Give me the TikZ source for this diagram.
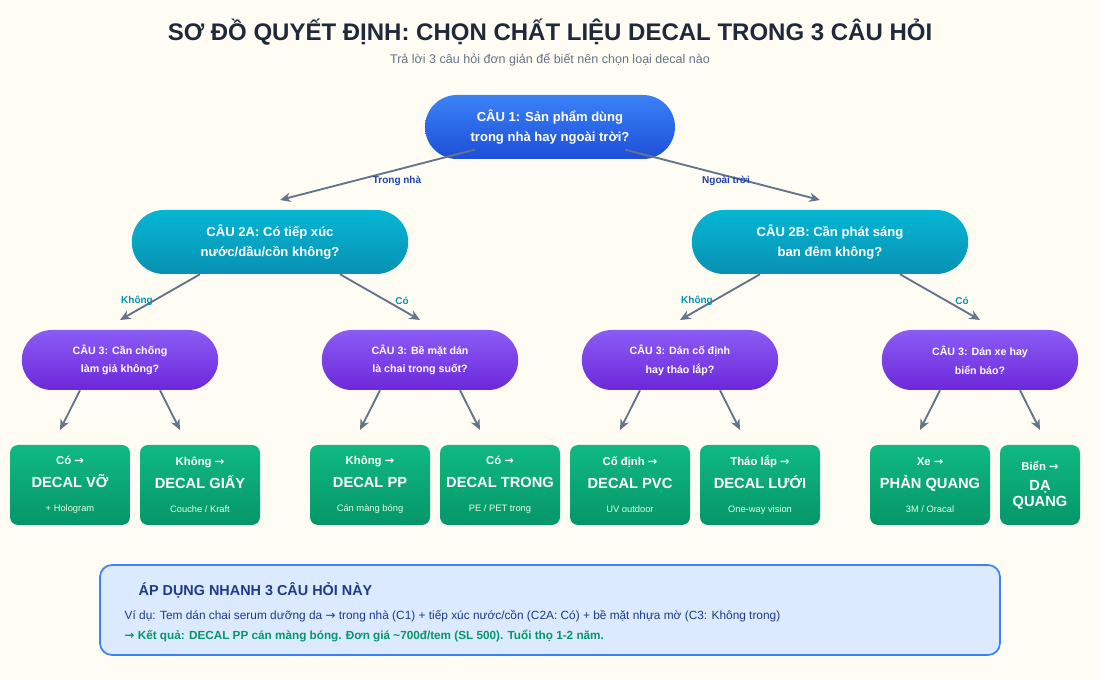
\documentclass[tikz,border=0pt]{standalone}
\usepackage{fontspec}
\setmainfont{Liberation Sans}
\newfontfamily\arr{DejaVu Sans}
\usetikzlibrary{shapes.misc,arrows.meta,calc}
\definecolor{bgc}{HTML}{FFFDF3}
\definecolor{ttl}{HTML}{1E293B}
\definecolor{sub}{HTML}{64748B}
\definecolor{lnk}{HTML}{64748B}
\definecolor{dblue}{HTML}{1E40AF}
\definecolor{cyl}{HTML}{0891B2}
\definecolor{grn}{HTML}{059669}
\newcommand{\ra}{{\arr →}}
\begin{document}
\begin{tikzpicture}[x=0.75pt,y=-0.75pt,
 q2/.style={rounded rectangle,align=center,text=white,minimum width=214pt,minimum height=48pt,top color={rgb,255:red,6;green,182;blue,212},bottom color={rgb,255:red,8;green,145;blue,178},font=\bfseries\fontsize{9.8}{14.5}\selectfont},
 q3/.style={rounded rectangle,align=center,text=white,minimum width=154pt,minimum height=45pt,top color={rgb,255:red,139;green,92;blue,246},bottom color={rgb,255:red,109;green,40;blue,217},font=\bfseries\fontsize{8}{14}\selectfont},
 leaf/.style={rectangle,rounded corners=6pt,minimum width=90pt,minimum height=60pt,top color={rgb,255:red,16;green,185;blue,129},bottom color={rgb,255:red,5;green,150;blue,105},text=white,align=center,inner sep=0pt},
 con/.style={draw=lnk,line width=1.4pt,-{Stealth[length=8pt,width=7pt]}},
 lab/.style={font=\bfseries\fontsize{7.5}{9}\selectfont}]
\fill[bgc] (0,0) rectangle (1100,680);
\node[font=\bfseries\fontsize{18}{20}\selectfont,text=ttl] (title) at (550,32) {SƠ ĐỒ QUYẾT ĐỊNH: CHỌN CHẤT LIỆU DECAL TRONG 3 CÂU HỎI};
\node[font=\fontsize{9.4}{11}\selectfont,text=sub] (subt) at (550,60) {Trả lời 3 câu hỏi đơn giản để biết nên chọn loại decal nào};
\shade[top color={rgb,255:red,59;green,130;blue,246},bottom color={rgb,255:red,29;green,78;blue,216},rounded corners=24pt] (425,95) rectangle (675,159);
\node[align=center,text=white,font=\bfseries\fontsize{9.8}{14.5}\selectfont] (q1) at (550,127) {CÂU 1: Sản phẩm dùng\\trong nhà hay ngoài trời?};
\node[q2] (q2a) at (270,242) {CÂU 2A: Có tiếp xúc\\nước/dầu/cồn không?};
\node[q2] (q2b) at (830,242) {CÂU 2B: Cần phát sáng\\ban đêm không?};
\node[q3] (q3a) at (120,360) {CÂU 3: Cần chống\\làm giả không?};
\node[q3] (q3b) at (420,360) {CÂU 3: Bề mặt dán\\là chai trong suốt?};
\node[q3] (q3c) at (680,360) {CÂU 3: Dán cố định\\hay tháo lắp?};
\node[q3] (q3d) at (980,360) {CÂU 3: Dán xe hay\\biển báo?};
\newcommand{\lf}[5]{\node[leaf] (#1) at (#2,485) {\bfseries\fontsize{8.5}{10}\selectfont #3\\[5pt]\bfseries\fontsize{11}{12}\selectfont #4\\[6pt]\mdseries\fontsize{7}{9}\selectfont\color{white!88!green} #5};}
\lf{l1}{70}{Có \ra}{DECAL VỠ}{+ Hologram}
\lf{l2}{200}{Không \ra}{DECAL GIẤY}{Couche / Kraft}
\lf{l3}{370}{Không \ra}{DECAL PP}{Cán màng bóng}
\lf{l4}{500}{Có \ra}{DECAL TRONG}{PE / PET trong}
\lf{l5}{630}{Cố định \ra}{DECAL PVC}{UV outdoor}
\lf{l6}{760}{Tháo lắp \ra}{DECAL LƯỚI}{One-way vision}
\lf{l7}{930}{Xe \ra}{PHẢN QUANG}{3M / Oracal}
\node[leaf,minimum width=60pt] (l8) at (1040,485) {\bfseries\fontsize{8.5}{10}\selectfont Biển \ra\\[3pt]\bfseries\fontsize{11}{11.5}\selectfont DẠ\\\bfseries\fontsize{11}{11.5}\selectfont QUANG};
% connectors
\coordinate (e1) at (280,200); \coordinate (e2) at (820,200);
\draw[con] ($(q1.south)+(-75,1)$) -- (e1);
\draw[con] ($(q1.south)+(75,1)$) -- (e2);
\node[lab,text=dblue] (t1) at (397,181) {Trong nhà};
\node[lab,text=dblue] (t2) at (726,181) {Ngoài trời};
\foreach \q/\c in {q2a/270,q2b/830}{
 \coordinate (\q l) at (\c-150,320); \coordinate (\q r) at (\c+150,320);
 \draw[con] ($(\q.south)+(-70,0)$) -- (\q l);
 \draw[con] ($(\q.south)+(70,0)$) -- (\q r);}
\node[lab,text=cyl] (k1) at (137,301) {Không};
\node[lab,text=cyl] (c1) at (402,301) {Có};
\node[lab,text=cyl] (k2) at (697,301) {Không};
\node[lab,text=cyl] (c2) at (962,301) {Có};
\foreach \q/\c in {q3a/120,q3b/420,q3c/680,q3d/980}{
 \coordinate (\q l) at (\c-60,430); \coordinate (\q r) at (\c+60,430);
 \draw[con] ($(\q.south)+(-40,0)$) -- (\q l);
 \draw[con] ($(\q.south)+(40,0)$) -- (\q r);}
% bottom box
\draw[draw={rgb,255:red,59;green,130;blue,246},fill={rgb,255:red,219;green,234;blue,254},line width=1.3pt,rounded corners=9pt] (100,565) rectangle (1000,655);
\node[anchor=west,font=\bfseries\fontsize{10.8}{12}\selectfont,text={rgb,255:red,30;green,58;blue,138}] (bh) at (134,590) {ÁP DỤNG NHANH 3 CÂU HỎI NÀY};
\node[anchor=west,font=\fontsize{8.9}{10}\selectfont,text={rgb,255:red,30;green,58;blue,138}] (b1) at (120,616) {Ví dụ: Tem dán chai serum dưỡng da \ra{} trong nhà (C1) + tiếp xúc nước/cồn (C2A: Có) + bề mặt nhựa mờ (C3: Không trong)};
\node[anchor=west,font=\bfseries\fontsize{8.8}{10}\selectfont,text=grn] (b2) at (120,636) {\ra{} Kết quả: DECAL PP cán màng bóng. Đơn giá \textasciitilde700đ/tem (SL 500). Tuổi thọ 1-2 năm.};
\end{tikzpicture}
\end{document}
